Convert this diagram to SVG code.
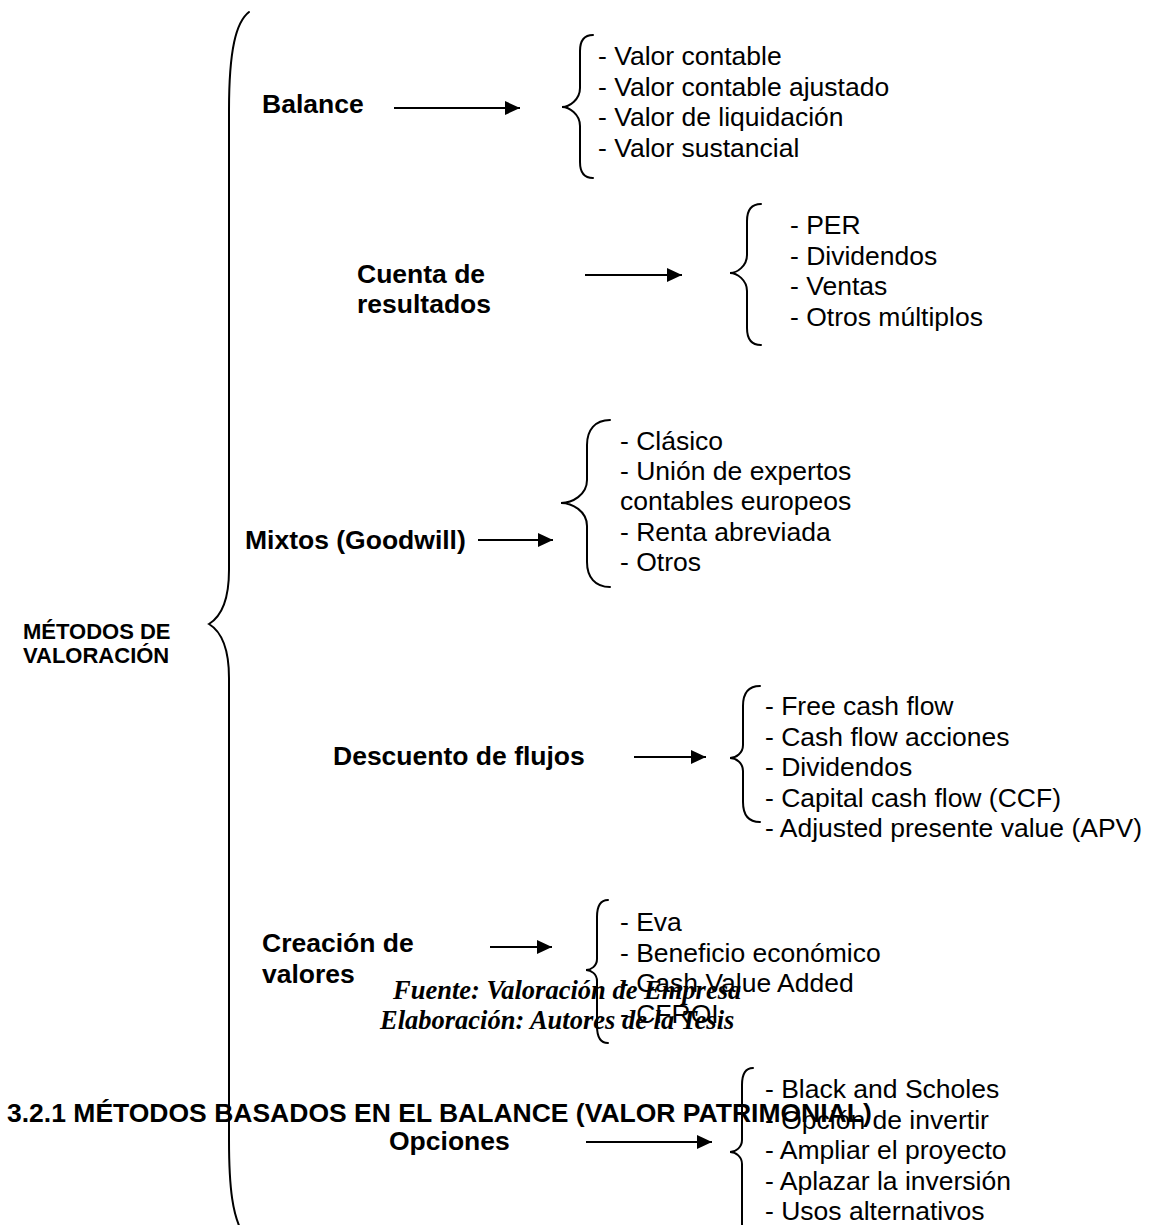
<svg xmlns="http://www.w3.org/2000/svg" width="1160" height="1225" viewBox="0 0 1160 1225">
  <defs>
    <style>
      text { font-family: "Liberation Sans", Arial, sans-serif; fill: #000; }
      .cat { font-size: 26.5px; font-weight: bold; }
      .root { font-size: 22px; font-weight: bold; }
      .item { font-size: 26.5px; }
      .head { font-size: 26.5px; font-weight: bold; }
      .note { font-family: "Liberation Serif", "Times New Roman", serif; font-size: 26.5px; font-weight: bold; font-style: italic; }
      .brace { fill: none; stroke: #000; stroke-width: 2; stroke-linecap: round; }
      .arrow { stroke: #000; stroke-width: 2.2; marker-end: url(#head); }
    </style>
    <marker id="head" markerUnits="userSpaceOnUse" markerWidth="16" markerHeight="14" refX="15" refY="7" orient="auto">
      <path d="M0,0 L15,7 L0,14 z" fill="#000"/>
    </marker>
  </defs>
  <rect width="1160" height="1225" fill="#fff"/>

  <!-- main brace and root label -->
  <g id="root">
    <path class="brace" d="M249,12 C236,22 229,50 229,110 L229,570 C229,600 222,616 209,624 C222,632 229,648 229,678 L229,1140 C229,1190 233,1215 242,1232"/>
    <text class="root" x="23" y="639">MÉTODOS DE</text>
    <text class="root" x="23" y="663">VALORACIÓN</text>
  </g>

  <!-- connectors -->
  <g id="connectors">
    <line class="arrow" x1="394" y1="108" x2="520" y2="108"/>
    <line class="arrow" x1="585" y1="275" x2="682" y2="275"/>
    <line class="arrow" x1="478" y1="540" x2="553" y2="540"/>
    <line class="arrow" x1="634" y1="757" x2="706" y2="757"/>
    <line class="arrow" x1="490" y1="947" x2="552" y2="947"/>
    <line class="arrow" x1="586" y1="1142" x2="712" y2="1142"/>
  </g>

  <!-- Balance -->
  <g id="balance">
    <text class="cat" x="262" y="113">Balance</text>
    <path class="brace" d="M593,35 C584,35 580,41 580,51 L580,88 C580,100 569,107 562,107 C569,107 580,114 580,126 L580,162 C580,172 584,178 593,178"/>
    <text class="item" x="598">
      <tspan x="598" y="65">- Valor contable</tspan>
      <tspan x="598" y="95.5">- Valor contable ajustado</tspan>
      <tspan x="598" y="126">- Valor de liquidación</tspan>
      <tspan x="598" y="156.5">- Valor sustancial</tspan>
    </text>
  </g>

  <!-- Cuenta de resultados -->
  <g id="cuenta-resultados">
    <text class="cat" x="357" y="283">Cuenta de</text>
    <text class="cat" x="357" y="313">resultados</text>
    <path class="brace" d="M761,204 C751,204 747,211 747,221 L747,255 C747,266 737,273 730,273 C737,273 747,280 747,291 L747,328 C747,338 751,345 761,345"/>
    <text class="item">
      <tspan x="790" y="234">- PER</tspan>
      <tspan x="790" y="264.5">- Dividendos</tspan>
      <tspan x="790" y="295">- Ventas</tspan>
      <tspan x="790" y="325.5">- Otros múltiplos</tspan>
    </text>
  </g>

  <!-- Mixtos -->
  <g id="mixtos">
    <text class="cat" x="245" y="549">Mixtos (Goodwill)</text>
    <path class="brace" d="M610,420 C595,420 587,430 587,445 L587,480 C587,495 572,503 561,503 C572,503 587,511 587,526 L587,562 C587,577 595,587 610,587"/>
    <text class="item">
      <tspan x="620" y="450">- Clásico</tspan>
      <tspan x="620" y="480">- Unión de expertos</tspan>
      <tspan x="620" y="510">contables europeos</tspan>
      <tspan x="620" y="540.5">- Renta abreviada</tspan>
      <tspan x="620" y="570.5">- Otros</tspan>
    </text>
  </g>

  <!-- Descuento de flujos -->
  <g id="descuento-flujos">
    <text class="cat" x="333" y="765">Descuento de flujos</text>
    <path class="brace" d="M760,686 C748,686 743,694 743,706 L743,745 C743,753 736,758 730,758 C736,758 743,763 743,771 L743,802 C743,814 748,822 760,822"/>
    <text class="item">
      <tspan x="765" y="715">- Free cash flow</tspan>
      <tspan x="765" y="745.5">- Cash flow acciones</tspan>
      <tspan x="765" y="776">- Dividendos</tspan>
      <tspan x="765" y="806.5">- Capital cash flow (CCF)</tspan>
      <tspan x="765" y="837">- Adjusted presente value (APV)</tspan>
    </text>
  </g>

  <!-- Creación de valores -->
  <g id="creacion-valores">
    <text class="cat" x="262" y="952">Creación de</text>
    <text class="cat" x="262" y="983">valores</text>
    <path class="brace" d="M608,900 C600,900 597,907 597,917 L597,959 C597,966 591,970 586,970 C591,970 597,974 597,981 L597,1026 C597,1036 600,1043 608,1043"/>
    <text class="item">
      <tspan x="620" y="931">- Eva</tspan>
      <tspan x="620" y="961.5">- Beneficio económico</tspan>
      <tspan x="620" y="992">- Cash Value Added</tspan>
      <tspan x="620" y="1022.5">- CFROI</tspan>
    </text>
  </g>

  <!-- source note -->
  <g id="nota">
    <text class="note" x="393" y="999">Fuente: Valoración de Empresa</text>
    <text class="note" x="380" y="1029">Elaboración: Autores de la Tesis</text>
  </g>

  <!-- Opciones -->
  <g id="opciones">
    <text class="cat" x="389" y="1150">Opciones</text>
    <path class="brace" d="M753,1068 C745,1068 742,1075 742,1085 L742,1140 C742,1147 736,1152 730,1152 C736,1152 742,1157 742,1164 L742,1223 C742,1233 745,1240 753,1240"/>
    <text class="item">
      <tspan x="765" y="1098">- Black and Scholes</tspan>
      <tspan x="765" y="1128.5">- Opción de invertir</tspan>
      <tspan x="765" y="1159">- Ampliar el proyecto</tspan>
      <tspan x="765" y="1189.5">- Aplazar la inversión</tspan>
      <tspan x="765" y="1220">- Usos alternativos</tspan>
    </text>
  </g>

  <!-- section heading -->
  <g id="encabezado">
    <text class="head" x="7" y="1122">3.2.1 MÉTODOS BASADOS EN EL BALANCE (VALOR PATRIMONIAL)</text>
  </g>
</svg>
